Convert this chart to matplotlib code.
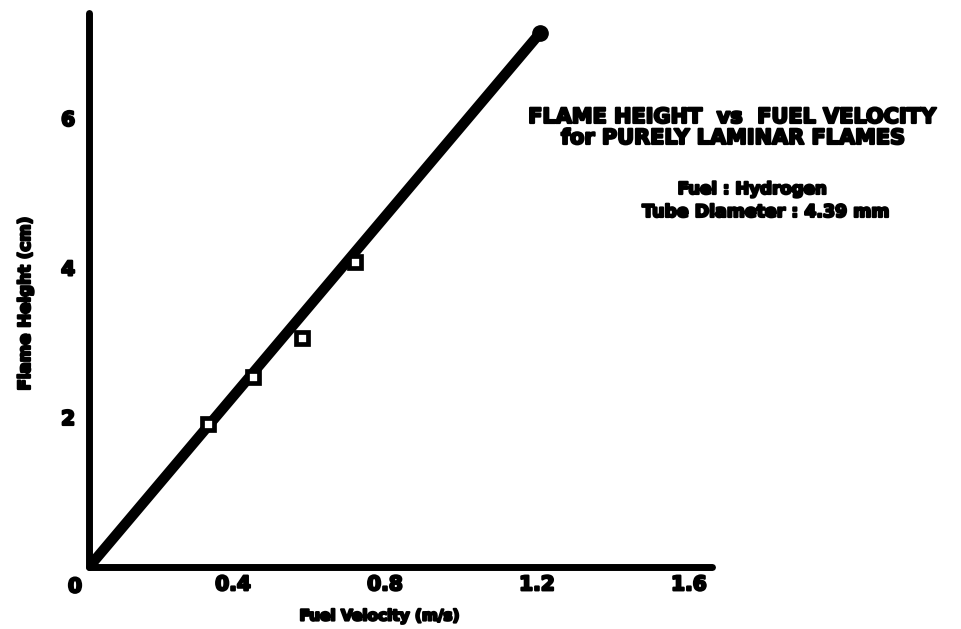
import matplotlib.pyplot as plt
import matplotlib.patheffects as pe
from matplotlib.transforms import ScaledTranslation

# readings
fuel_velocity = [0.0, 0.313, 0.432, 0.561, 0.700, 1.187]   # m/s
flame_height = [0.0, 1.91, 2.54, 3.06, 4.08, 7.14]         # cm

x_ticks = [0.4, 0.8, 1.2, 1.6]
x_tick_labels = ['0.4', '0.8', '1.2', '1.6']
y_ticks = [2, 4, 6]
y_tick_labels = ['2', '4', '6']

W, H = 962, 629
fig = plt.figure(figsize=(W / 100, H / 100), dpi=100)
ax = fig.add_axes([89 / W, (H - 567) / H, (712 - 89) / W, (567 - 13) / H])
ax.set_xlim(0, 1.64)
ax.set_ylim(0, 7.41)

for side in ['top', 'right']:
    ax.spines[side].set_visible(False)
for side in ['left', 'bottom']:
    ax.spines[side].set_linewidth(5)
    ax.spines[side].set_capstyle('round')

# fitted straight line from origin to last point
ax.plot([fuel_velocity[0], fuel_velocity[-1]], [flame_height[0], flame_height[-1]],
        color='black', linewidth=7.5, solid_capstyle='round', zorder=3)
ax.plot(fuel_velocity[1:-1], flame_height[1:-1], linestyle='none', marker='s',
        markersize=8.5, markerfacecolor='white', markeredgecolor='black',
        markeredgewidth=3.4, zorder=4)
ax.plot(fuel_velocity[-1:], flame_height[-1:], linestyle='none', marker='o',
        markersize=11, color='black', zorder=4, clip_on=False)

# thicken glyphs a little, like the photocopied lettering
ink = [pe.withStroke(linewidth=1.6, foreground='black')]
font = dict(family='DejaVu Sans', weight='bold')

ax.set_xticks(x_ticks)
ax.set_xticklabels(x_tick_labels, fontsize=14.5, path_effects=ink, **font)
ax.set_yticks(y_ticks)
ax.set_yticklabels(y_tick_labels, fontsize=14.5, path_effects=ink, **font)
ax.tick_params(axis='x', length=0, pad=6)
ax.tick_params(axis='y', length=0, pad=10)
# hand lettering sits a little left of each tick
shift = ScaledTranslation(-0.08, 0, fig.dpi_scale_trans)
for lbl in ax.get_xticklabels():
    lbl.set_transform(lbl.get_transform() + shift)

fig.text(75 / W, 1 - 587 / H, '0', fontsize=14.5, ha='center', va='center',
         path_effects=ink, **font)
fig.text(379 / W, 1 - 616 / H, 'Fuel Velocity (m/s)', fontsize=11,
         ha='center', va='center', path_effects=ink, **font)
fig.text(25 / W, 1 - 304 / H, 'Flame Height (cm)', fontsize=12, rotation=90,
         ha='center', va='center', path_effects=ink, **font)

fig.text(732 / W, 1 - 117 / H, 'FLAME HEIGHT  vs  FUEL VELOCITY', fontsize=15,
         ha='center', va='center', path_effects=ink, **font)
fig.text(733 / W, 1 - 138 / H, 'for PURELY LAMINAR FLAMES', fontsize=15,
         ha='center', va='center', path_effects=ink, **font)
fig.text(752 / W, 1 - 189 / H, 'Fuel : Hydrogen', fontsize=12,
         ha='center', va='center', path_effects=ink, **font)
fig.text(766 / W, 1 - 212 / H, 'Tube Diameter : 4.39 mm', fontsize=12.5,
         ha='center', va='center', path_effects=ink, **font)

plt.savefig('out.png', dpi=100)
plt.close()
